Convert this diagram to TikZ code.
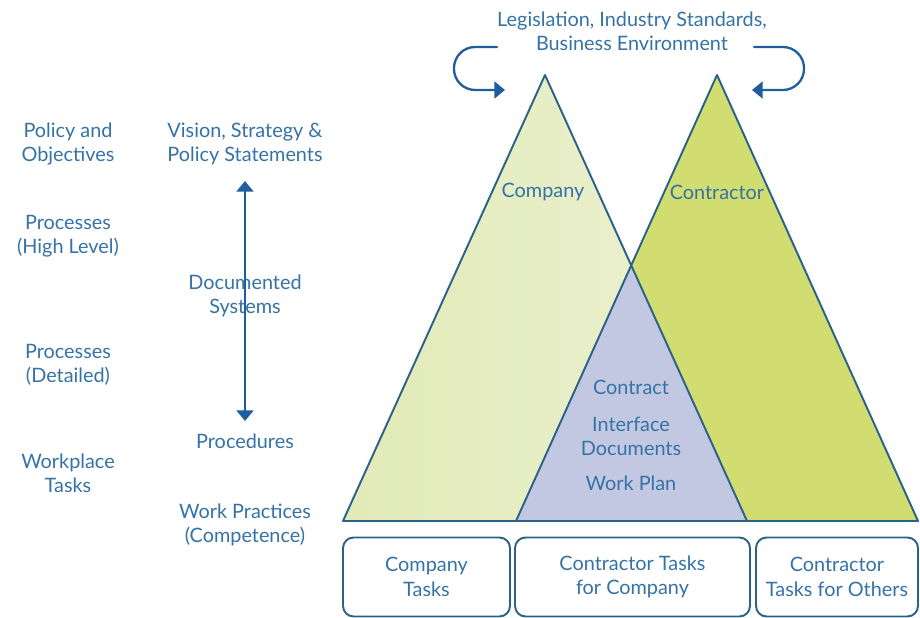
\documentclass[tikz,border=0pt]{standalone}
\usepackage{fontspec}
\setmainfont{Lato}
\usetikzlibrary{arrows.meta}
\definecolor{txtblue}{HTML}{3572A6}
\definecolor{edgeblue}{HTML}{2B6288}
\definecolor{arrowblue}{HTML}{1F5D9F}
\definecolor{paleGreenL}{HTML}{E1EAB7}
\definecolor{paleGreenR}{HTML}{EDF2D3}
\definecolor{limeGreen}{HTML}{D1DD70}
\definecolor{lavender}{HTML}{C3C8E2}

\begin{document}
\begin{tikzpicture}[line cap=round,line join=round,>={Triangle[width=9.5pt,length=6pt]},x=0.02cm,y=-0.02cm,
  lbl/.style={text=txtblue,align=center,inner sep=1pt,font=\fontsize{11.3}{13.8}\selectfont},
  tri/.style={draw=edgeblue,line width=1.1pt},
  feed/.style={->,draw=arrowblue,line width=1.3pt,rounded corners=12pt},
  taskbox/.style={lbl,draw=edgeblue,line width=1.1pt,rounded corners=6pt,minimum height=1.58cm}]
  \useasboundingbox (0,0) rectangle (920,618);
      % the two pyramids and their overlap
      \coordinate (compApex) at (545,75);
      \coordinate (contApex) at (717,75);
      \coordinate (overlap) at (631,265);
      \coordinate (compL) at (343,521);
      \coordinate (compR) at (747,521);
      \coordinate (contL) at (516,521);
      \coordinate (contR) at (918,521);
      \shade[left color=paleGreenL,right color=paleGreenR] (compL) -- (compApex) -- (compR) -- cycle;
      \fill[limeGreen] (contL) -- (contApex) -- (contR) -- cycle;
      \fill[lavender] (contL) -- (overlap) -- (compR) -- cycle;
      \draw[tri] (compL) -- (compApex) -- (compR);
      \draw[tri] (contL) -- (contApex) -- (contR);
      \draw[tri] (compL) -- (contR);
      \node[lbl] (company) at (543,192) {Company};
      \node[lbl] (contractor) at (717,192) {Contractor};
      \node[lbl] (contract) at (631,387) {Contract};
      \node[lbl] (interface) at (631,436) {Interface\\Documents};
      \node[lbl] (workplan) at (631,483) {Work Plan};
      % outside influences
      \node[lbl] (legislation) at (632,31) {Legislation, Industry Standards,\\Business Environment};
      \coordinate (feedL) at (497,47);
      \coordinate (feedR) at (754,47);
      \coordinate (hitComp) at (505,90);
      \coordinate (hitCont) at (752,90);
      \draw[feed] (feedL) -- (454,47) -- (454,90) -- (hitComp);
      \draw[feed] (feedR) -- (804,47) -- (804,90) -- (hitCont);
      % left hand columns
      \node[lbl] (policyObj) at (68,144) {Policy and\\Objectives};
      \node[lbl] (procHigh) at (68,236) {Processes\\(High Level)};
      \node[lbl] (procDet) at (68,365) {Processes\\(Detailed)};
      \node[lbl] (workplace) at (68,473) {Workplace\\Tasks};
      \node[lbl] (vision) at (245,144) {Vision, Strategy \&\\Policy Statements};
      \node[lbl] (docSys) at (245,296) {Documented\\Systems};
      \node[lbl] (procedures) at (245,441) {Procedures};
      \node[lbl] (workPractice) at (245,525) {Work Practices\\(Competence)};
      \coordinate (docTop) at (245,181);
      \coordinate (docBot) at (245,421);
      \draw[<->,draw=arrowblue,line width=1.3pt] (docTop) -- (docBot);
      % task boxes
      \node[taskbox,minimum width=3.34cm] (compTasks) at (426.5,577) {Company\\Tasks};
      \node[taskbox,minimum width=4.7cm] (contCompTasks) at (632.5,577) {Contractor Tasks\\for Company};
      \node[taskbox,minimum width=3.24cm] (contOtherTasks) at (837,577) {Contractor\\Tasks for Others};
\end{tikzpicture}
\end{document}
